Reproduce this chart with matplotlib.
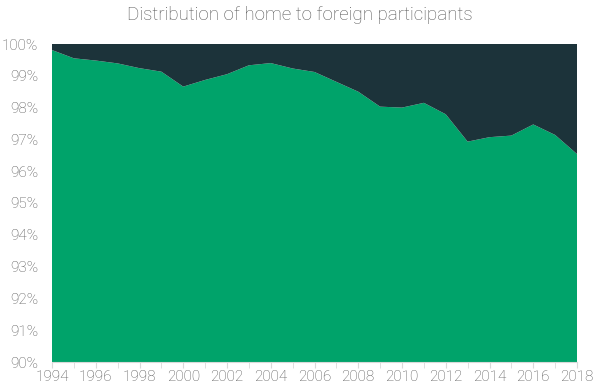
import matplotlib
matplotlib.use('Agg')
import matplotlib.pyplot as plt
from matplotlib.ticker import FuncFormatter

plt.rcParams['font.family'] = ['Roboto', 'DejaVu Sans']

# 数据
years = list(range(1994, 2019))
home_pct = [99.81, 99.55, 99.48, 99.39, 99.24, 99.13, 98.66, 98.87, 99.05, 99.33,
            99.40, 99.23, 99.12, 98.81, 98.50, 98.03, 98.00, 98.15, 97.79, 96.93,
            97.07, 97.12, 97.47, 97.14, 96.54]
foreign_pct = [100 - v for v in home_pct]

green = '#00A36A'
dark = '#1C333A'
text_color = '#555555'

fig = plt.figure(figsize=(6, 3.85), dpi=100)
ax = fig.add_axes([52 / 600, 23 / 385, 525 / 600, 318 / 385])

ax.stackplot(years, home_pct, foreign_pct, colors=[green, dark], linewidth=0)

ax.set_xlim(1994, 2018)
ax.set_ylim(90, 100)
ax.set_xticks(range(1994, 2019, 2))
ax.set_xticks(years, minor=True)
ax.set_yticks(range(90, 101))
ax.yaxis.set_major_formatter(FuncFormatter(lambda v, p: f"{int(v)}%"))

for s in ['top', 'right', 'left']:
    ax.spines[s].set_visible(False)
ax.spines['bottom'].set_color('#d9d9d9')
ax.tick_params(axis='y', length=0, labelsize=11, labelcolor=text_color, pad=10)
ax.tick_params(axis='x', which='both', length=4, color='#d9d9d9',
               labelsize=11, labelcolor=text_color, pad=2)
for lbl in ax.get_xticklabels() + ax.get_yticklabels():
    lbl.set_fontweight('light')

fig.suptitle('Distribution of home to foreign participants', x=0.5, y=0.985,
             fontsize=13.5, color=text_color, fontweight='light')

fig.savefig('out.png', dpi=100)
